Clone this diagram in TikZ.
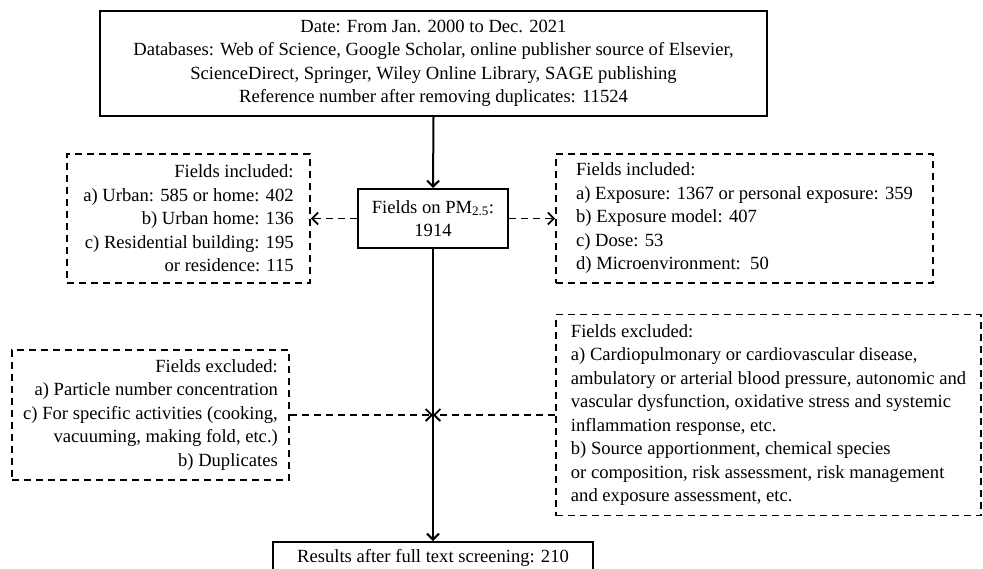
\documentclass[tikz,border=0pt]{standalone}
\usepackage{fontspec}
\setmainfont{Liberation Serif}
\usetikzlibrary{arrows.meta}
\begin{document}
\begin{tikzpicture}[x=1pt,y=-1pt,
    every node/.style={font=\fontsize{18.6}{23.5}\selectfont,inner ysep=0pt},
    solidbox/.style={draw,line width=2pt},
    dashbox/.style={draw,line width=1.8pt,dash pattern=on 7pt off 5pt},
    flow/.style={line width=2pt,-{Straight Barb[length=6pt,width=12pt]}},
    dashflow/.style={line width=1.8pt,dash pattern=on 7pt off 5pt,-{Straight Barb[length=6pt,width=12pt]}}]
    \useasboundingbox[fill=white] (0,0) rectangle (983,568);
    \node[solidbox,minimum width=667pt,minimum height=105pt,align=center] (search) at (433.5,63.5)
        {Date: From Jan. 2000 to Dec. 2021\\
         Databases: Web of Science, Google Scholar, online publisher source of Elsevier,\\
         ScienceDirect, Springer, Wiley Online Library, SAGE publishing\\
         Reference number after removing duplicates: 11524};
    \node[solidbox,minimum width=150pt,minimum height=59pt,align=center] (pm) at (433,218.5)
        {Fields on PM\textsubscript{2.5}:\\1914};
    \node[dashbox,minimum width=243pt,minimum height=129pt,align=right] (inclL) at (188.5,218.5)
        {Fields included:\\
         a) Urban: 585 or home: 402\\
         b) Urban home: 136\\
         c) Residential building: 195\\
         or residence: 115};
    \node[dashbox,minimum width=377pt,minimum height=129pt,align=left] (inclR) at (744.5,218.5)
        {Fields included:\\
         a) Exposure: 1367 or personal exposure: 359\\
         b) Exposure model: 407\\
         c) Dose: 53\\
         d) Microenvironment:\ \ 50};
    \node[dashbox,minimum width=277pt,minimum height=130pt,align=right] (exclL) at (150.5,415)
        {Fields excluded:\\
         a) Particle number concentration\\
         c) For specific activities (cooking,\\
         vacuuming, making fold, etc.)\\
         b) Duplicates};
    \node[dashbox,minimum width=425pt,minimum height=201pt,align=left] (exclR) at (768.5,415)
        {Fields excluded:\\
         a) Cardiopulmonary or cardiovascular disease,\\
         ambulatory or arterial blood pressure, autonomic and\\
         vascular dysfunction, oxidative stress and systemic\\
         inflammation response, etc.\\
         b) Source apportionment, chemical species\\
         or composition, risk assessment, risk management\\
         and exposure assessment, etc.};
    \node[solidbox,anchor=north,minimum width=320pt,minimum height=32pt] (result) at (433,541)
        {Results after full text screening: 210};
    \coordinate (join) at (433,415);
    \draw[flow] (search.south) -- (pm.north);
    \draw[flow] (pm.south) -- (result.north);
    \draw[dashflow] (pm.west) -- (inclL.east);
    \draw[dashflow] (pm.east) -- (inclR.west);
    \draw[dashflow] (exclL.east) -- (join);
    \draw[dashflow] (exclR.west) -- (join);
\end{tikzpicture}
\end{document}
